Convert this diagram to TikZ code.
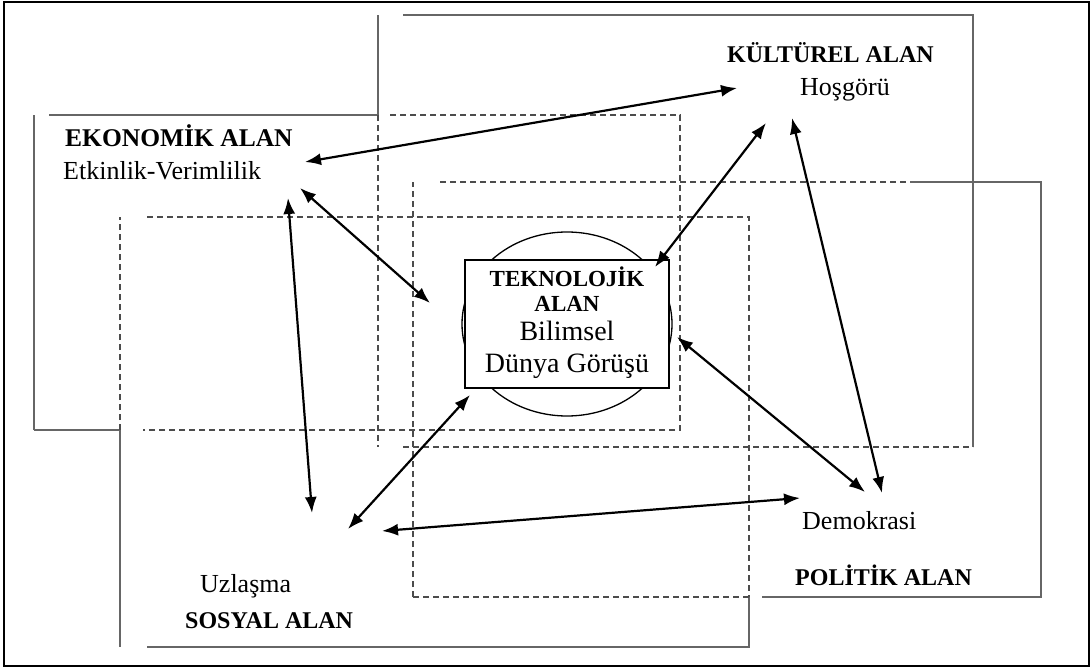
\documentclass[tikz,border=0pt]{standalone}
\usepackage{fontspec}
\setmainfont{Liberation Serif}
\usetikzlibrary{shapes}
\usetikzlibrary{arrows.meta}
\tikzset{
    frame/.style = {line width=2.5pt,draw=black},
    wall/.style = {line width=1.8pt,draw=black!60},
    wallg/.style = {line width=1.8pt,draw=black!70,dash pattern=on 6pt off 4pt},
    alan/.style = {anchor=base west,inner sep=0pt,font=\bfseries\fontsize{24}{28}\selectfont},
    deger/.style = {anchor=base west,inner sep=0pt,font=\fontsize{26}{30}\selectfont},
    merkez/.style = {anchor=base,inner sep=0pt,font=\fontsize{28}{32}\selectfont},
    merkezb/.style = {anchor=base,inner sep=0pt,font=\bfseries\fontsize{23}{26}\selectfont},
    edgen/.style = {{Latex[length=16pt,width=12pt]}-{Latex[length=16pt,width=12pt]},line width=2.2pt}
}
\begin{document}
\begin{tikzpicture}[x=1pt,y=-1pt]
  \useasboundingbox (0,0) rectangle (1092,668);
  \draw[frame] (4,2) rectangle (1089,666);

  % ekonomik alan
  \draw[wall] (34,430) -- (34,115);
  \draw[wall] (49,115) -- (378,115);
  \draw[wall] (34,430) -- (120,430);
  \draw[wallg] (390,115) -- (680,115) -- (680,430) -- (143,430);
  % kulturel alan
  \draw[wall] (378,115) -- (378,15);
  \draw[wall] (403,15) -- (973,15) -- (973,447);
  \draw[wallg] (378,115) -- (378,447);
  \draw[wallg] (403,447) -- (973,447);
  % sosyal alan
  \draw[wallg] (120,430) -- (120,217);
  \draw[wallg] (147,217) -- (749,217) -- (749,597);
  \draw[wall] (120,430) -- (120,647);
  \draw[wall] (147,647) -- (749,647) -- (749,597);
  % politik alan
  \draw[wallg] (413,597) -- (413,182);
  \draw[wallg] (440,182) -- (910,182);
  \draw[wallg] (413,597) -- (749,597);
  \draw[wall] (910,182) -- (1041,182) -- (1041,597) -- (762,597);

  % teknolojik alan
  \node[draw,ellipse,line width=1.3pt,inner sep=0pt,minimum width=210pt,minimum height=184pt] (halka) at (567,324) {};
  \node[draw,fill=white,line width=1.8pt,inner sep=0pt,minimum width=204pt,minimum height=128pt] (tek) at (567,324) {};
  \node[merkezb] (tek1) at (567,287) {TEKNOLOJİK};
  \node[merkezb] (tek2) at (567,312) {ALAN};
  \node[merkez] (tek3) at (567,340) {Bilimsel};
  \node[merkez] (tek4) at (567,372) {Dünya Görüşü};

  \node[alan,font=\bfseries\fontsize{25.5}{28}\selectfont] (eko) at (65,147) {EKONOMİK ALAN};
  \node[deger] (etk) at (63,180) {Etkinlik-Verimlilik};
  \node[alan] (kul) at (727,63) {KÜLTÜREL ALAN};
  \node[deger] (hos) at (800,96) {Hoşgörü};
  \node[deger] (uzl) at (200,592) {Uzlaşma};
  \node[alan] (sos) at (185,628) {SOSYAL ALAN};
  \node[deger] (dem) at (802,529) {Demokrasi};
  \node[alan] (pol) at (795,585) {POLİTİK ALAN};

  \coordinate (ek-ku) at (305,162);
  \coordinate (ku-ek) at (737,88);
  \coordinate (ek-te) at (300,188);
  \coordinate (te-ek) at (430,303);
  \coordinate (ek-so) at (288,198);
  \coordinate (so-ek) at (312,513);
  \coordinate (ku-te) at (766,123);
  \coordinate (te-ku) at (655,267);
  \coordinate (ku-po) at (792,118);
  \coordinate (po-ku) at (882,493);
  \coordinate (te-po) at (677,337);
  \coordinate (po-te) at (865,492);
  \coordinate (te-so) at (470,395);
  \coordinate (so-te) at (348,529);
  \coordinate (so-po) at (382,531);
  \coordinate (po-so) at (800,498);

  \draw[edgen] (ek-ku) -- (ku-ek);
  \draw[edgen] (ek-te) -- (te-ek);
  \draw[edgen] (ek-so) -- (so-ek);
  \draw[edgen] (ku-te) -- (te-ku);
  \draw[edgen] (ku-po) -- (po-ku);
  \draw[edgen] (te-po) -- (po-te);
  \draw[edgen] (te-so) -- (so-te);
  \draw[edgen] (so-po) -- (po-so);
\end{tikzpicture}
\end{document}
